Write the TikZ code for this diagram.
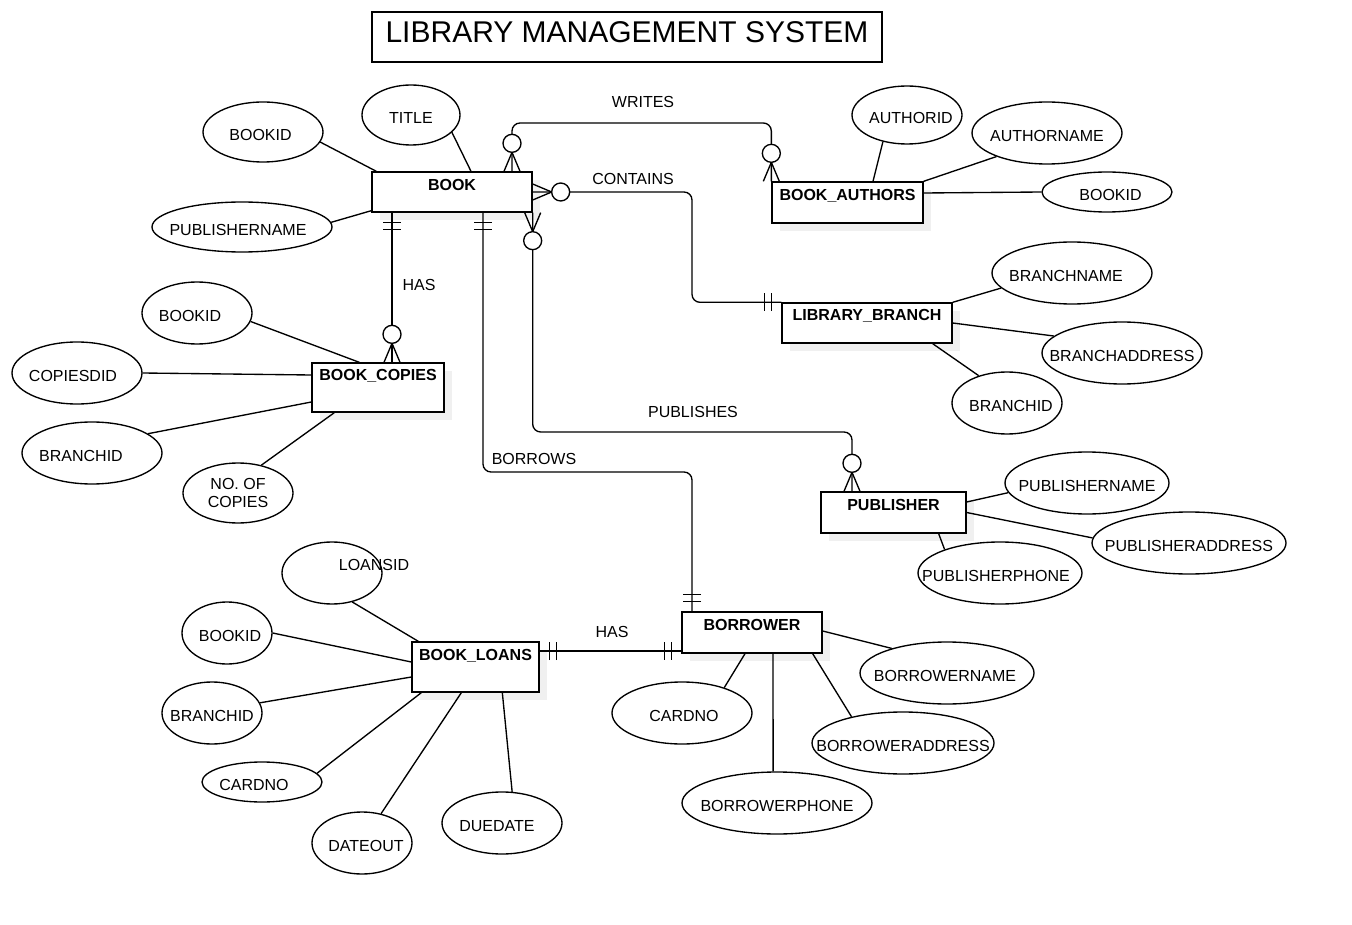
\documentclass[tikz,border=0pt]{standalone}
\usepackage{fontspec}
\setmainfont{Liberation Sans}
\usetikzlibrary{shapes.geometric,shadows}
\newcommand\ctext[2][0pt]{\makebox[0pt]{\hspace*{#1}\raisebox{-2.5pt}{#2}}}
\tikzset{
  conn/.style={line width=1.35pt, draw=black},
  attrbase/.style={ellipse, draw=black, line width=1.35pt, fill=white, inner sep=0pt, font=\fontsize{16}{18}\selectfont},
  attr/.style={attrbase, text height=11.5pt, text depth=0pt},
  entity/.style={rectangle, draw=black, line width=1.35pt, fill=white, inner sep=0pt, text height=11.5pt, text depth=0pt,
    font=\fontsize{16}{18}\selectfont\bfseries,
    drop shadow={shadow xshift=8pt, shadow yshift=-8pt, fill=black!6, opacity=1}},
  rel/.style={font=\fontsize{16}{18}\selectfont, inner sep=0pt},
  zmany/.pic={\draw[conn] (0pt,8pt) -- (19pt,0pt) -- (0pt,-8pt); \draw[conn, fill=white] (28pt,0pt) circle[radius=9pt];},
  onlyone/.pic={\draw[conn] (10pt,-9pt) -- (10pt,9pt) (17pt,-9pt) -- (17pt,9pt);},
}
\begin{document}
\begin{tikzpicture}[x=1pt,y=-1pt]
\fill[white] (0,0) rectangle (1352,925);
\useasboundingbox (0,0) rectangle (1352,925);

% title
\node[draw, line width=1.35pt, minimum width=510pt, minimum height=50pt, inner sep=0pt,
      text height=21.5pt, text depth=0pt,
      font=\fontsize{30}{36}\selectfont] (title) at (627,37) {\raisebox{5pt}{LIBRARY MANAGEMENT SYSTEM}};

% entities
\node[entity, minimum width=160pt, minimum height=40pt] (book) at (452,192) {\raisebox{7pt}{BOOK}};
\node[entity, minimum width=151pt, minimum height=41pt] (authors) at (847.5,202.5) {\raisebox{7.5pt}{BOOK\_AUTHORS}};
\node[entity, minimum width=170pt, minimum height=40pt] (branch) at (867,323) {\raisebox{8pt}{LIBRARY\_BRANCH}};
\node[entity, minimum width=132pt, minimum height=49pt] (copies) at (378,387.5) {\raisebox{12.5pt}{BOOK\_COPIES}};
\node[entity, minimum width=145pt, minimum height=41pt] (publisher) at (893.5,512.5) {\raisebox{7.5pt}{PUBLISHER}};
\node[entity, minimum width=140pt, minimum height=41pt] (borrower) at (752,632.5) {\raisebox{7.5pt}{BORROWER}};
\node[entity, minimum width=127pt, minimum height=50pt] (loans) at (475.5,667) {\raisebox{12pt}{BOOK\_LOANS}};

% attributes
\node[attr, minimum width=98pt, minimum height=60pt] (att1) at (411,115) {\ctext{TITLE}};
\node[attr, minimum width=120pt, minimum height=60pt] (bk1) at (263,132) {\ctext[-5pt]{BOOKID}};
\node[attr, minimum width=180pt, minimum height=50pt] (pn1) at (242,227) {\ctext[-8pt]{PUBLISHERNAME}};
\node[attr, minimum width=110pt, minimum height=58pt] (aid) at (907,115) {\ctext[8pt]{AUTHORID}};
\node[attr, minimum width=150pt, minimum height=62pt] (aname) at (1047,133) {\ctext{AUTHORNAME}};
\node[attr, minimum width=130pt, minimum height=40pt] (bk2) at (1107,192) {\ctext[7pt]{BOOKID}};
\node[attr, minimum width=160pt, minimum height=62pt] (bname) at (1072,273) {\ctext[-12pt]{BRANCHNAME}};
\node[attr, minimum width=160pt, minimum height=62pt] (baddr) at (1122,353) {\ctext{BRANCHADDRESS}};
\node[attr, minimum width=110pt, minimum height=62pt] (bid1) at (1007,403) {\ctext[8pt]{BRANCHID}};
\node[attr, minimum width=110pt, minimum height=62pt] (bk3) at (197,313) {\ctext[-14pt]{BOOKID}};
\node[attr, minimum width=130pt, minimum height=62pt] (cid) at (77,373) {\ctext[-8pt]{COPIESDID}};
\node[attr, minimum width=140pt, minimum height=62pt] (bid2) at (92,453) {\ctext[-22pt]{BRANCHID}};
\node[attrbase, minimum width=110pt, minimum height=60pt, align=center] (noc) at (238,493) {NO. OF\\COPIES};
\node[attr, minimum width=164pt, minimum height=62pt] (pn2) at (1087,483) {\ctext{PUBLISHERNAME}};
\node[attr, minimum width=194pt, minimum height=62pt] (paddr) at (1189,543) {\ctext{PUBLISHERADDRESS}};
\node[attr, minimum width=164pt, minimum height=62pt] (pph) at (1000,573) {\ctext[-8pt]{PUBLISHERPHONE}};
\node[attr, minimum width=174pt, minimum height=62pt] (brn) at (947,673) {\ctext[-4pt]{BORROWERNAME}};
\node[attr, minimum width=182pt, minimum height=62pt] (bra) at (903,743) {\ctext{BORROWERADDRESS}};
\node[attr, minimum width=190pt, minimum height=62pt] (brp) at (777,803) {\ctext{BORROWERPHONE}};
\node[attr, minimum width=140pt, minimum height=62pt] (cn1) at (682,713) {\ctext[4pt]{CARDNO}};
\node[attr, minimum width=100pt, minimum height=62pt] (lid) at (332,573) {\ctext[84pt]{\raisebox{10.5pt}{LOANSID}}};
\node[attr, minimum width=90pt, minimum height=62pt] (bk4) at (227,633) {\ctext[6pt]{BOOKID}};
\node[attr, minimum width=100pt, minimum height=62pt] (bid3) at (212,713) {\ctext{BRANCHID}};
\node[attr, minimum width=120pt, minimum height=40pt] (cn2) at (262,782) {\ctext[-16pt]{CARDNO}};
\node[attr, minimum width=100pt, minimum height=62pt] (dout) at (362,843) {\ctext[8pt]{DATEOUT}};
\node[attr, minimum width=120pt, minimum height=62pt] (ddate) at (502,823) {\ctext[-10pt]{DUEDATE}};

% attribute lines
\draw[conn] (att1.-23) -- ([xshift=19pt]book.north);
\draw[conn] (bk1.-10) -- ([xshift=5pt]book.north west);
\draw[conn] (pn1.3) -- ([yshift=2pt]book.south west);
\draw[conn] (aid.228) -- ([xshift=25.5pt]authors.north);
\draw[conn] (aname.205) -- (authors.north east);
\draw[conn] (bk2.180) -- ([yshift=9.5pt]authors.east);
\draw[conn] (bname.192) -- (branch.north east);
\draw[conn] (baddr.166) -- (branch.east);
\draw[conn] (bid1.136) -- ([xshift=-20pt]branch.south east);
\draw[conn] (bk3.-9) -- ([xshift=48pt]copies.north west);
\draw[conn] (cid.0) -- ([yshift=12.5pt]copies.west);
\draw[conn] (bid2.19) -- ([yshift=-14.5pt]copies.west);
\draw[conn] (noc.50) -- ([xshift=23pt]copies.south west);
\draw[conn] (pn2.187) -- ([yshift=10.5pt]publisher.east);
\draw[conn] (paddr.177) -- (publisher.east);
\draw[conn] (pph.157) -- ([xshift=-28pt]publisher.south east);
\draw[conn] (brn.156) -- ([yshift=1.5pt]borrower.east);
\draw[conn] (bra.153) -- ([xshift=-10pt]borrower.south east);
\draw[conn] (brp.97) -- ([xshift=21pt]borrower.south);
\draw[conn] (cn1.31) -- ([xshift=-7pt]borrower.south);
\draw[conn] (lid.-55) -- ([xshift=7pt]loans.north west);
\draw[conn] (bk4.0) -- ([yshift=5pt]loans.west);
\draw[conn] (bid3.12) -- ([yshift=-10pt]loans.west);
\draw[conn] (cn2.9) -- ([xshift=10pt]loans.south west);
\draw[conn] (dout.57) -- ([xshift=50pt]loans.south west);
\draw[conn] (ddate.72) -- ([xshift=91pt]loans.south west);

% relationship connectors
\coordinate (wmid) at (640,123);
\coordinate (cmid) at (692,250);
\coordinate (bmid) at (600,472);
\coordinate (pmid) at (700,432);
\draw[conn, rounded corners=8pt] ([xshift=60pt]book.north) |- (wmid) -| (authors.north west);
\draw[conn, rounded corners=8pt] (book.east) -| (cmid) |- (branch.north west);
\draw[conn, rounded corners=8pt] ([xshift=31pt]book.south) |- (bmid) -| ([xshift=-60pt]borrower.north);
\draw[conn] ([xshift=-60pt]book.south) -- ([xshift=14pt]copies.north);
\draw[conn, rounded corners=8pt] (book.south east) |- (pmid) -| ([xshift=-41.5pt]publisher.north);
\draw[conn] ([yshift=16pt]loans.east) -- ([yshift=-18.5pt]borrower.west);

% cardinality markers
\pic[rotate=90] at ([xshift=60pt]book.north) {zmany};
\pic[rotate=90] at (authors.north west) {zmany};
\pic at (book.east) {zmany};
\pic[rotate=180] at (branch.north west) {onlyone};
\pic[rotate=-90] at ([xshift=31pt]book.south) {onlyone};
\pic[rotate=90] at ([xshift=-60pt]borrower.north) {onlyone};
\pic[rotate=-90] at ([xshift=-60pt]book.south) {onlyone};
\pic[rotate=90] at ([xshift=14pt]copies.north) {zmany};
\pic[rotate=-90] at (book.south east) {zmany};
\pic[rotate=90] at ([xshift=-41.5pt]publisher.north) {zmany};
\pic at ([yshift=16pt]loans.east) {onlyone};
\pic[rotate=180] at ([yshift=-18.5pt]borrower.west) {onlyone};

% relationship labels
\node[rel] (lw) at (643,102) {WRITES};
\node[rel] (lc) at (633,179) {CONTAINS};
\node[rel] (lh1) at (419,285) {HAS};
\node[rel] (lb) at (534,459) {BORROWS};
\node[rel] (lp) at (693,412) {PUBLISHES};
\node[rel] (lh2) at (612,632) {HAS};
\end{tikzpicture}
\end{document}
